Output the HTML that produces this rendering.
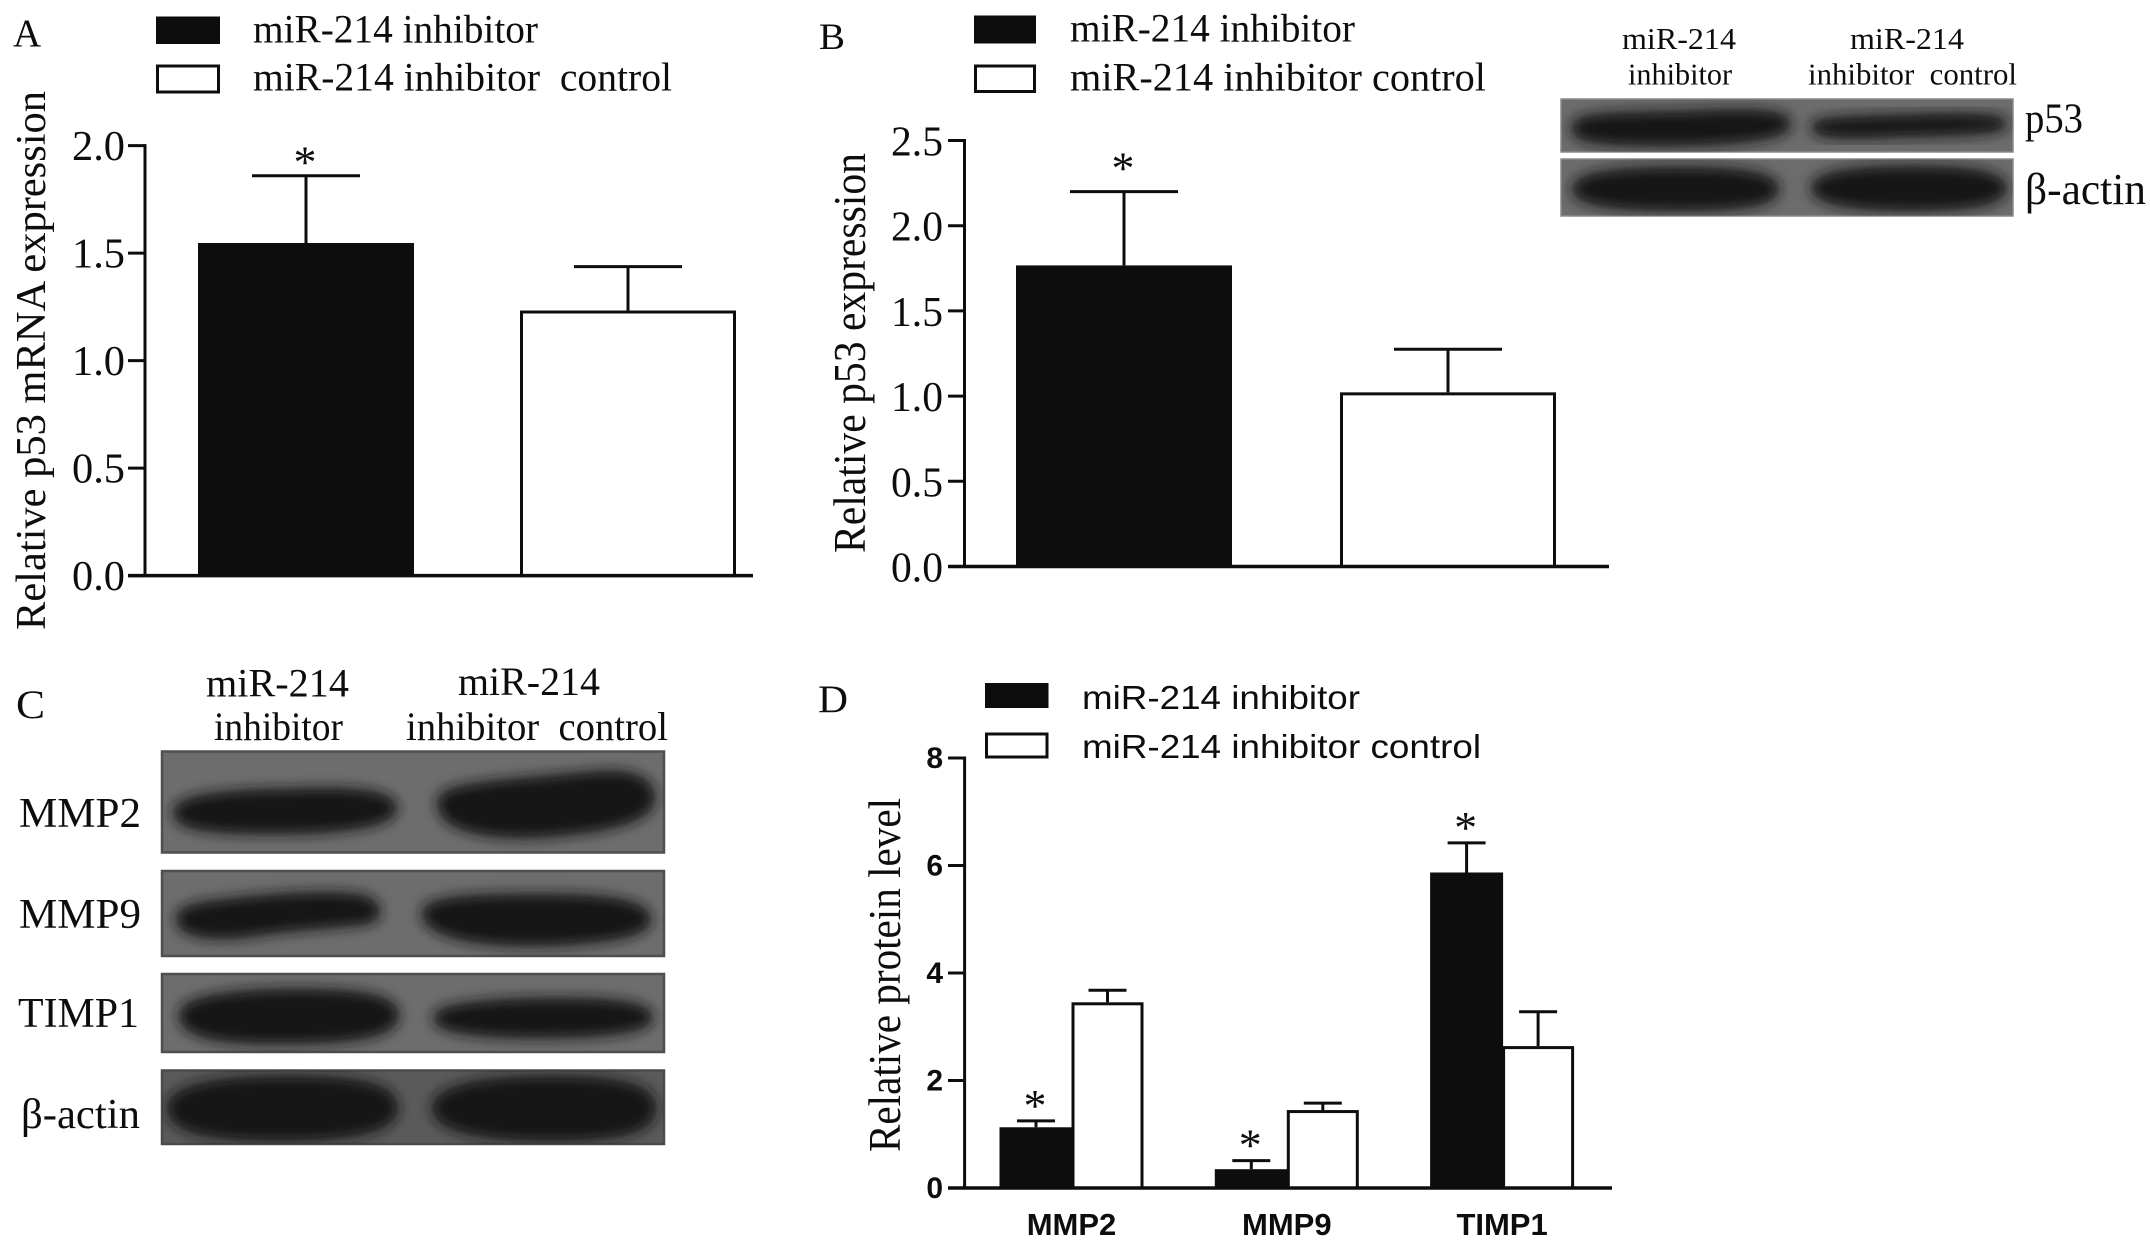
<!DOCTYPE html>
<html lang="en">
<head>
<meta charset="utf-8">
<title>miR-214 inhibitor figure</title>
<style>
html,body{margin:0;padding:0;background:#fff;width:2150px;height:1245px;overflow:hidden}
svg{display:block}
text{font-family:"Liberation Serif",serif;fill:#0d0d0d}
.sans{font-family:"Liberation Sans",sans-serif}
.bold{font-family:"Liberation Sans",sans-serif;font-weight:bold}
.band{fill:#171717;stroke:#171717;stroke-width:9;stroke-linejoin:round}
</style>
</head>
<body>
<svg id="figure" width="2150" height="1245" viewBox="0 0 2150 1245" xmlns="http://www.w3.org/2000/svg">
<defs>
<filter id="blurBand" x="-15%" y="-60%" width="130%" height="220%"><feGaussianBlur stdDeviation="6.5"/></filter>
<clipPath id="clipB1"><rect x="1561" y="99" width="452" height="53"/></clipPath>
<clipPath id="clipB2"><rect x="1561" y="159" width="452" height="57"/></clipPath>
<clipPath id="clipC1"><rect x="162" y="751.5" width="502" height="101"/></clipPath>
<clipPath id="clipC2"><rect x="162" y="871" width="502" height="85"/></clipPath>
<clipPath id="clipC3"><rect x="162" y="974" width="502" height="78"/></clipPath>
<clipPath id="clipC4"><rect x="162" y="1070.5" width="502" height="73.5"/></clipPath>
</defs>
<rect width="2150" height="1245" fill="#fff"/>

<!-- Panel letters -->
<text x="13" y="46" font-size="39">A</text>
<text x="819" y="49" font-size="37" textLength="26" lengthAdjust="spacingAndGlyphs">B</text>
<text x="16" y="718" font-size="40" textLength="29" lengthAdjust="spacingAndGlyphs">C</text>
<text x="818" y="712" font-size="39" textLength="30" lengthAdjust="spacingAndGlyphs">D</text>

<!-- Panel A legend -->
<g>
<rect x="156" y="16.5" width="64" height="27.5" fill="#0d0d0d"/>
<rect x="157.5" y="66" width="61" height="26" fill="#fff" stroke="#0d0d0d" stroke-width="3"/>
<text x="253" y="42.5" font-size="40" textLength="285" lengthAdjust="spacingAndGlyphs">miR-214 inhibitor</text>
<text x="253" y="90.5" font-size="40" textLength="419" lengthAdjust="spacingAndGlyphs">miR-214 inhibitor&#160; control</text>
</g>
<text transform="translate(45,630) rotate(-90)" font-size="42" textLength="539" lengthAdjust="spacingAndGlyphs">Relative p53 mRNA expression</text>

<!-- Panel B legend -->
<g>
<rect x="974" y="15.5" width="62" height="28" fill="#0d0d0d"/>
<rect x="975.5" y="66" width="59" height="25.5" fill="#fff" stroke="#0d0d0d" stroke-width="3"/>
<text x="1070" y="41.5" font-size="40" textLength="285" lengthAdjust="spacingAndGlyphs">miR-214 inhibitor</text>
<text x="1070" y="90.5" font-size="40" textLength="416" lengthAdjust="spacingAndGlyphs">miR-214 inhibitor control</text>
</g>
<text transform="translate(865,553) rotate(-90)" font-size="46" textLength="400" lengthAdjust="spacingAndGlyphs">Relative p53 expression</text>

<!-- Panel B blot -->
<g>
<text x="1622" y="49" font-size="31" textLength="114" lengthAdjust="spacingAndGlyphs">miR-214</text>
<text x="1628" y="84.5" font-size="31" textLength="104" lengthAdjust="spacingAndGlyphs">inhibitor</text>
<text x="1850" y="49" font-size="31" textLength="114" lengthAdjust="spacingAndGlyphs">miR-214</text>
<text x="1808" y="84.5" font-size="31" textLength="209" lengthAdjust="spacingAndGlyphs">inhibitor&#160; control</text>
<g>
<rect x="1561" y="99" width="452" height="53" fill="#6c6c6c" stroke="#8a8a8a" stroke-width="1.5"/>
<path filter="url(#blurBand)" clip-path="url(#clipB1)" class="band" d="M1575,128 C1575,116 1620,116 1690,115 C1740,112 1787,112 1787,124 C1787,136 1730,142 1660,142 C1610,142 1575,140 1575,128Z"/>
<path filter="url(#blurBand)" clip-path="url(#clipB1)" class="band" d="M1815,127 C1815,120 1860,120 1920,118 C1970,116 2003,118 2003,124 C2003,131 1950,132 1900,133 C1850,136 1815,135 1815,127Z"/>
</g>
<g>
<rect x="1561" y="159" width="452" height="57" fill="#6c6c6c" stroke="#8a8a8a" stroke-width="1.5"/>
<path filter="url(#blurBand)" clip-path="url(#clipB2)" class="band" d="M1576,189 C1576,176 1620,171 1680,171 C1740,171 1775,176 1775,189 C1775,202 1740,207 1680,207 C1620,207 1576,202 1576,189Z"/>
<path filter="url(#blurBand)" clip-path="url(#clipB2)" class="band" d="M1815,188 C1815,175 1860,170 1910,170 C1970,170 2003,175 2003,188 C2003,201 1970,207 1910,207 C1860,207 1815,201 1815,188Z"/>
</g>
<text x="2025" y="132.5" font-size="42" textLength="58" lengthAdjust="spacingAndGlyphs">p53</text>
<text x="2025" y="204" font-size="44" textLength="121" lengthAdjust="spacingAndGlyphs">β-actin</text>
</g>

<!-- Panel C blot -->
<g>
<text x="206" y="696.5" font-size="40" textLength="143" lengthAdjust="spacingAndGlyphs">miR-214</text>
<text x="214" y="740" font-size="40" textLength="129" lengthAdjust="spacingAndGlyphs">inhibitor</text>
<text x="458" y="695" font-size="40" textLength="142" lengthAdjust="spacingAndGlyphs">miR-214</text>
<text x="406" y="740" font-size="40" textLength="262" lengthAdjust="spacingAndGlyphs">inhibitor&#160; control</text>
<g>
<rect x="162" y="751.5" width="502" height="101" fill="#6d6d6d" stroke="#4f4f4f" stroke-width="2.5"/>
<path filter="url(#blurBand)" clip-path="url(#clipC1)" class="band" d="M177,812 C177,799 230,793 290,793 C350,790 393,794 393,808 C393,823 340,830 280,830 C220,830 177,828 177,812Z"/>
<path filter="url(#blurBand)" clip-path="url(#clipC1)" class="band" d="M441,802 C441,784 540,782 600,775 C640,773 651,785 651,798 C651,820 600,830 530,834 C470,834 441,823 441,802Z"/>
</g>
<g>
<rect x="162" y="871" width="502" height="85" fill="#6d6d6d" stroke="#4f4f4f" stroke-width="2.5"/>
<path filter="url(#blurBand)" clip-path="url(#clipC2)" class="band" d="M180,918 C180,907 215,904 255,900 C300,896 340,895 362,899 C380,904 380,916 368,920 C330,925 290,926 255,932 C220,937 180,936 180,918Z"/>
<path filter="url(#blurBand)" clip-path="url(#clipC2)" class="band" d="M426,912 C429,899 490,898 540,898 C610,898 647,904 647,920 C647,934 590,942 530,942 C470,942 424,931 426,912Z"/>
</g>
<g>
<rect x="162" y="974" width="502" height="78" fill="#6d6d6d" stroke="#4f4f4f" stroke-width="2.5"/>
<path filter="url(#blurBand)" clip-path="url(#clipC3)" class="band" d="M183,1015 C183,999 240,993 300,993 C360,993 395,999 395,1015 C395,1036 340,1040 280,1040 C220,1040 183,1034 183,1015Z"/>
<path filter="url(#blurBand)" clip-path="url(#clipC3)" class="band" d="M437,1018 C437,1007 500,1002 560,1002 C620,1002 649,1007 649,1018 C649,1029 600,1034 540,1034 C480,1034 437,1029 437,1018Z"/>
</g>
<g>
<rect x="162" y="1070.5" width="502" height="73.5" fill="#5a5a5a" stroke="#4a4a4a" stroke-width="2.5"/>
<path filter="url(#blurBand)" clip-path="url(#clipC4)" class="band" d="M171,1108 C171,1088 220,1080 290,1080 C360,1080 394,1088 394,1108 C394,1129 350,1137 280,1137 C210,1137 171,1129 171,1108Z"/>
<path filter="url(#blurBand)" clip-path="url(#clipC4)" class="band" d="M436,1108 C436,1088 490,1080 550,1080 C620,1080 652,1088 652,1108 C652,1129 620,1137 550,1137 C490,1137 436,1129 436,1108Z"/>
</g>
<text x="19" y="827" font-size="42" textLength="122" lengthAdjust="spacingAndGlyphs">MMP2</text>
<text x="19" y="928" font-size="42" textLength="122" lengthAdjust="spacingAndGlyphs">MMP9</text>
<text x="18" y="1027" font-size="42" textLength="121" lengthAdjust="spacingAndGlyphs">TIMP1</text>
<text x="21" y="1128" font-size="42" textLength="119" lengthAdjust="spacingAndGlyphs">β-actin</text>
</g>

<!-- Panel D legend -->
<g>
<rect x="985" y="683" width="63.5" height="25" fill="#0d0d0d"/>
<rect x="986.5" y="734" width="60.5" height="23" fill="#fff" stroke="#0d0d0d" stroke-width="3"/>
<text class="sans" x="1082" y="709" font-size="33" textLength="278" lengthAdjust="spacingAndGlyphs">miR-214 inhibitor</text>
<text class="sans" x="1082" y="758" font-size="33" textLength="399" lengthAdjust="spacingAndGlyphs">miR-214 inhibitor control</text>
</g>
<text transform="translate(900,1152) rotate(-90)" font-size="46" textLength="354" lengthAdjust="spacingAndGlyphs">Relative protein level</text>

<g id="chart-a"></g>
<g id="chart-b"></g>
<g id="chart-d"></g>
</svg>

<script>
// Panel A data
const aSeries = ['inhibitor', 'control'];
const aMeans = [1.547, 1.233];
const aUpper = [1.86, 1.437];
const aSignificant = [true, false];
const aTicks = ['0.0', '0.5', '1.0', '1.5', '2.0'];

// Panel B data
const bSeries = ['inhibitor', 'control'];
const bMeans = [1.767, 1.022];
const bUpper = [2.2, 1.275];
const bSignificant = [true, false];
const bTicks = ['0.0', '0.5', '1.0', '1.5', '2.0', '2.5'];

// Panel D data
const dCategories = ['MMP2', 'MMP9', 'TIMP1'];
const dInhibitorMeans = [1.13, 0.35, 5.87];
const dInhibitorUpper = [1.25, 0.51, 6.42];
const dInhibitorSignificant = [true, true, true];
const dControlMeans = [3.455, 1.45, 2.64];
const dControlUpper = [3.68, 1.58, 3.28];
const dTicks = ['0', '2', '4', '6', '8'];

const NS = 'http://www.w3.org/2000/svg';
const BLACK = '#0d0d0d';

function mk(parent, tag, props, txt) {
  const el = document.createElementNS(NS, tag);
  for (const k in props) el.setAttribute(k, props[k]);
  if (txt !== undefined) el.textContent = txt;
  parent.appendChild(el);
  return el;
}

function drawAxes(g, axis, ticks, scaleY) {
  const yAxis = mk(g, 'line', {x1: axis.x, x2: axis.x, y1: scaleY(Number(ticks[ticks.length - 1])) - 1.5, y2: axis.y0, stroke: BLACK, 'stroke-width': 3});
  
  
  const xAxis = mk(g, 'line', {x1: axis.tickLeft, x2: axis.xEnd, y1: axis.y0, y2: axis.y0, stroke: BLACK, 'stroke-width': 3.5});
  
  
  ticks.forEach(function (t) {
    const y = scaleY(Number(t));
    const mark = mk(g, 'line', {x1: axis.tickLeft, x2: axis.x, y1: y, y2: y, stroke: BLACK, 'stroke-width': 3});
    
    
    const props = {x: axis.labelRight, y: y + axis.labelDy, 'font-size': axis.labelSize, 'text-anchor': 'end'};
    if (axis.labelClass) props['class'] = axis.labelClass;
    if (axis.labelWidth) { props.textLength = axis.labelWidth; props.lengthAdjust = 'spacingAndGlyphs'; }
    const label = mk(g, 'text', props, t);
    
    
  });
}

function drawBar(g, spec) {
  const top = spec.scaleY(spec.mean);
  const capY = spec.scaleY(spec.upper);
  const cx = spec.x + spec.width / 2;
  const stem = mk(g, 'line', {x1: cx, x2: cx, y1: capY, y2: top, stroke: BLACK, 'stroke-width': spec.sw});
  
  
  const cap = mk(g, 'line', {x1: cx - spec.capHalf, x2: cx + spec.capHalf, y1: capY, y2: capY, stroke: BLACK, 'stroke-width': spec.sw});
  
  
  const inset = spec.filled ? 0 : 1.5;
  const bar = mk(g, 'rect', {
    x: spec.x + inset, y: top + inset, width: spec.width - 2 * inset,
    height: spec.y0 - top - inset,
    fill: spec.filled ? BLACK : '#fff',
    stroke: spec.filled ? 'none' : BLACK,
    'stroke-width': spec.filled ? 0 : 3
  });
  
  
  if (spec.star) {
    const star = mk(g, 'text', {x: cx - 1, y: capY - spec.starGap + 20, 'font-size': 46, 'text-anchor': 'middle'}, '*');
    
    
  }
}

// Panel A
(function () {
  const g = document.getElementById('chart-a');
  const y0 = 575.6;
  const yA = function (v) { return y0 - v * 215; };
  const xA = function (i) { return 198 + i * 322; };
  aMeans.forEach(function (m, i) {
    drawBar(g, {name: 'bar-a-' + aSeries[i], x: xA(i), width: 216, mean: m, upper: aUpper[i], scaleY: yA, y0: y0, filled: i === 0, capHalf: 54, sw: 3, star: aSignificant[i], starGap: 18});
  });
  drawAxes(g, {x: 145, y0: y0, tickLeft: 128, xEnd: 753, labelRight: 125, labelDy: 14.5, labelSize: 42, labelWidth: 53}, aTicks, yA);
})();

// Panel B
(function () {
  const g = document.getElementById('chart-b');
  const y0 = 566.5;
  const yB = function (v) { return y0 - v * 170.4; };
  const xB = function (i) { return 1016 + i * 324; };
  bMeans.forEach(function (m, i) {
    drawBar(g, {name: 'bar-b-' + bSeries[i], x: xB(i), width: 216, mean: m, upper: bUpper[i], scaleY: yB, y0: y0, filled: i === 0, capHalf: 54, sw: 3, star: bSignificant[i], starGap: 28});
  });
  drawAxes(g, {x: 964.5, y0: y0, tickLeft: 948, xEnd: 1609, labelRight: 943, labelDy: 15, labelSize: 42, labelWidth: 52}, bTicks, yB);
})();

// Panel D
(function () {
  const g = document.getElementById('chart-d');
  const y0 = 1188;
  const yD = function (v) { return y0 - v * 53.75; };
  const xD = function (c, s) { return 999.5 + c * 215.3 + s * 72; };
  dCategories.forEach(function (cat, c) {
    const key = cat.toLowerCase();
    drawBar(g, {name: 'bar-d-' + key + '-inhibitor', x: xD(c, 0), width: 73, mean: dInhibitorMeans[c], upper: dInhibitorUpper[c], scaleY: yD, y0: y0, filled: true, capHalf: 19, sw: 3, star: dInhibitorSignificant[c], starGap: 20});
    drawBar(g, {name: 'bar-d-' + key + '-control', x: xD(c, 1), width: 72, mean: dControlMeans[c], upper: dControlUpper[c], scaleY: yD, y0: y0, filled: false, capHalf: 19, sw: 3, star: false, starGap: 0});
    const label = mk(g, 'text', {x: xD(c, 1), y: 1235, 'font-size': 31, 'text-anchor': 'middle', 'class': 'bold'}, cat);
    
    
  });
  drawAxes(g, {x: 964.6, y0: y0, tickLeft: 948, xEnd: 1612, labelRight: 943, labelDy: 10, labelSize: 30, labelClass: 'bold'}, dTicks, yD);
})();
</script>
</body>
</html>
